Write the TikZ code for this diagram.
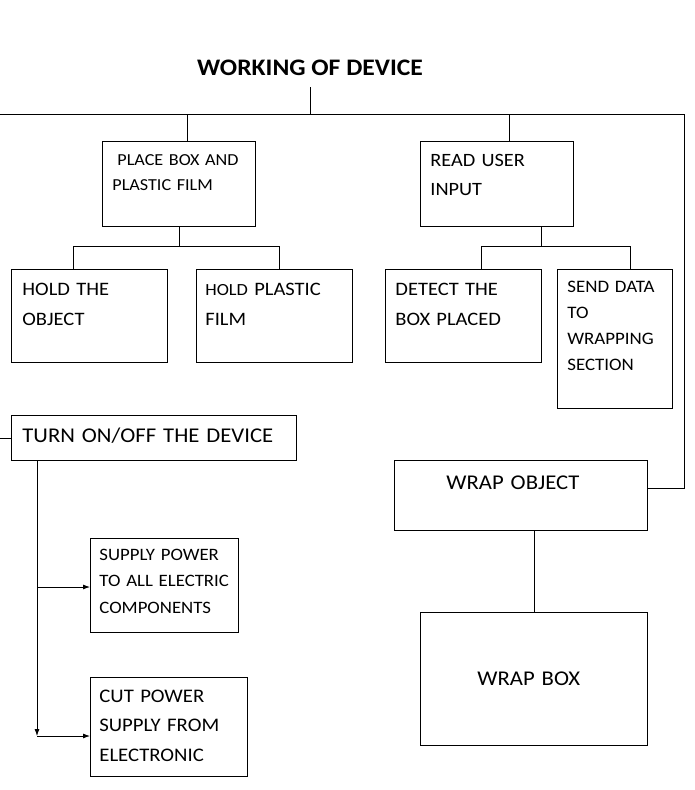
\documentclass[tikz,border=0pt]{standalone}
\usepackage{fontspec}
\setmainfont{Carlito}[FakeStretch=1.08]
\usetikzlibrary{arrows.meta}
\newcommand{\sz}[2]{\fontsize{#1pt}{#2pt}\selectfont}

\begin{document}
\begin{tikzpicture}[x=1pt, y=-1pt, line width=0.8pt, >={Latex[length=7pt, width=5pt]},
    box/.style={draw, rectangle, inner sep=0pt, anchor=north west},
    txt/.style={anchor=base west, inner sep=0pt, align=left, text width=300pt}]
    \useasboundingbox (0,0) rectangle (695,790);

    \node (title) at(310,75) [anchor=base, inner sep=0pt, font=\bfseries\sz{23.7}{28}] {WORKING OF DEVICE};
    \coordinate (lft) at(0,114);
    \coordinate (hub) at(310,114);
    \coordinate (rgt) at(684,114);

    \node (place) at(102,141) [box, minimum width=153pt, minimum height=85pt] {};
    \node (read) at(420,141) [box, minimum width=153pt, minimum height=85pt] {};
    \node (hold) at(11,269) [box, minimum width=156pt, minimum height=93pt] {};
    \node (film) at(196,269) [box, minimum width=156pt, minimum height=93pt] {};
    \node (detect) at(385,269) [box, minimum width=156pt, minimum height=93pt] {};
    \node (send) at(557,269) [box, minimum width=115pt, minimum height=139pt] {};
    \node (turn) at(11,415) [box, minimum width=285pt, minimum height=45pt] {};
    \node (supply) at(90,538) [box, minimum width=148pt, minimum height=94pt] {};
    \node (cut) at(90,677) [box, minimum width=157pt, minimum height=99pt] {};
    \node (wrap) at(394,460) [box, minimum width=253pt, minimum height=70pt] {};
    \node (wrapbox) at(420,612) [box, minimum width=227pt, minimum height=133pt] {};

    \node (placet) at(112,165) [txt, font=\sz{16.8}{25}] {\hspace{5pt}PLACE BOX AND\\PLASTIC FILM};
    \node (readt) at(430,166) [txt, font=\sz{18.8}{29}] {READ USER\\INPUT};
    \node (holdt) at(22,295) [txt, font=\sz{19}{30}] {HOLD THE\\OBJECT};
    \node (filmt) at(205,295) [txt, font=\sz{19}{30}] {{\sz{17}{30}HOLD} PLASTIC\\FILM};
    \node (detectt) at(395,295) [txt, font=\sz{19}{30}] {DETECT THE\\BOX PLACED};
    \node (sendt) at(567,292) [txt, font=\sz{17.5}{26}] {SEND DATA\\TO\\WRAPPING\\SECTION};
    \node (turnt) at(22,442) [txt, font=\sz{21}{25}] {TURN ON/OFF THE DEVICE};
    \node (supplyt) at(99,560) [txt, font=\sz{17.4}{26.5}] {SUPPLY POWER\\TO ALL ELECTRIC\\COMPONENTS};
    \node (cutt) at(99,702) [txt, font=\sz{19.2}{29.5}] {CUT POWER\\SUPPLY FROM\\ELECTRONIC};
    \node (wrapt) at(446,489) [txt, font=\sz{21}{25}] {WRAP OBJECT};
    \node (wrapboxt) at(477,685) [txt, font=\sz{21}{25}] {WRAP BOX};

    % top level
    \draw (title.south |- 0,87) -- (hub);
    \draw (lft) -- (rgt) -- (rgt |- 0,488) -- (wrap.east |- 0,488);
    \draw ([xshift=8pt]place.north) -- ([xshift=8pt]place.north |- lft);
    \draw ([xshift=12pt]read.north) -- ([xshift=12pt]read.north |- lft);

    % place box branch
    \draw (place.south) -- ++(0,20) coordinate (pj);
    \draw ([xshift=-16pt]hold.north) |- (pj) -| ([xshift=5pt]film.north);

    % read input branch
    \draw ([xshift=44.5pt]read.south) -- ++(0,20) coordinate (rj);
    \draw ([xshift=18pt]detect.north) |- (rj) -| ([xshift=15.5pt]send.north);

    % power
    \draw (turn.west) -- (turn.west -| lft);
    \coordinate (bend) at(37,736);
    \draw[->] ([xshift=26pt]turn.south west) -- (bend);
    \draw[->] (bend |- 0,587) -- (supply.west |- 0,587);
    \draw[->] (bend) -- (bend -| cut.west);

    % wrapping
    \draw (wrapbox.north) -- (wrapbox.north |- wrap.south);
\end{tikzpicture}
\end{document}
